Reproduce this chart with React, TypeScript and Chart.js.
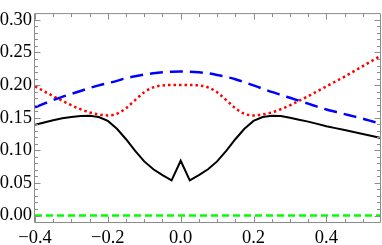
import React, { useEffect, useRef } from "react";
import { Chart, registerables } from "chart.js";

Chart.register(...registerables);

// x grid of samples
const xs = [
  -0.4, -0.375, -0.35, -0.325, -0.3, -0.275, -0.25, -0.225, -0.2, -0.175,
  -0.15, -0.125, -0.1, -0.075, -0.05, -0.025, 0, 0.025, 0.05, 0.075,
  0.1, 0.125, 0.15, 0.175, 0.2, 0.225, 0.25, 0.275, 0.3, 0.325,
  0.35, 0.375, 0.4, 0.425, 0.45, 0.475, 0.5, 0.525, 0.55,
];

// blue dashed series
const blueY = [
  0.166, 0.1715, 0.177, 0.182, 0.1865, 0.191, 0.1955, 0.1995, 0.203, 0.2065,
  0.2105, 0.2135, 0.216, 0.218, 0.2195, 0.2205, 0.221, 0.2205, 0.2195, 0.218,
  0.2155, 0.2125, 0.209, 0.2045, 0.1995, 0.1945, 0.1895, 0.185, 0.1805, 0.176,
  0.1715, 0.167, 0.1625, 0.159, 0.1555, 0.152, 0.1485, 0.1445, 0.1405,
];

// red dotted series
const redY = [
  0.198, 0.1905, 0.183, 0.176, 0.169, 0.163, 0.158, 0.155, 0.1535, 0.156,
  0.1645, 0.177, 0.189, 0.1965, 0.1995, 0.2, 0.2, 0.2, 0.1995, 0.1965,
  0.189, 0.177, 0.1645, 0.156, 0.1535, 0.155, 0.158, 0.163, 0.169, 0.176,
  0.183, 0.1905, 0.198, 0.2055, 0.213, 0.221, 0.229, 0.237, 0.245,
];

// black solid series
const blackY = [
  0.139, 0.1425, 0.146, 0.149, 0.151, 0.1525, 0.153, 0.151, 0.145, 0.133,
  0.117, 0.099, 0.083, 0.071, 0.062, 0.054, 0.084, 0.054, 0.062, 0.071,
  0.083, 0.099, 0.117, 0.133, 0.145, 0.151, 0.153, 0.1525, 0.15, 0.147,
  0.144, 0.1405, 0.137, 0.134, 0.131, 0.128, 0.125, 0.122, 0.119,
];

// green dashed series
const greenX = [-0.4, 0.55];
const greenY = [0, 0];

// ticks
const xMajor = [-0.4, -0.2, 0, 0.2, 0.4];
const xMinor = [-0.35, -0.3, -0.25, -0.15, -0.1, -0.05, 0.05, 0.1, 0.15, 0.25, 0.3, 0.35, 0.45, 0.5];
const yMajor = [0, 0.05, 0.1, 0.15, 0.2, 0.25, 0.3];
const yMinor = [
  0.01, 0.02, 0.03, 0.04, 0.06, 0.07, 0.08, 0.09, 0.11, 0.12, 0.13, 0.14,
  0.16, 0.17, 0.18, 0.19, 0.21, 0.22, 0.23, 0.24, 0.26, 0.27, 0.28, 0.29,
];

const pts = (x: number[], y: number[]) => x.map((v, i) => ({ x: v, y: y[i] }));

const fmtX = (v: number) => {
  const a = Math.abs(v).toFixed(1);
  return v < -1e-9 ? "\u2212" + a : a;
};
const fmtY = (v: number) => Math.abs(v).toFixed(2);

const FONT_FAMILY = "Liberation Serif";
const FONT_SIZE = 18.5;

const framePlugin = {
  id: "frameTicks",
  afterDraw(chart: any) {
    const { ctx, chartArea } = chart;
    const { left, right, top, bottom } = chartArea;
    const xs_ = chart.scales.x;
    const ys_ = chart.scales.y;
    const L = left - 0.5;
    const R = right - 0.5;
    const T = top - 0.5;
    const B = bottom + 0.5;
    ctx.save();
    ctx.strokeStyle = "#8c8c8c";
    ctx.lineWidth = 1;
    ctx.beginPath();
    ctx.moveTo(L, T);
    ctx.lineTo(R, T);
    ctx.lineTo(R, B);
    ctx.lineTo(L, B);
    ctx.closePath();
    ctx.stroke();
    const major = 6;
    const minor = 3.5;
    ctx.beginPath();
    const vx = (v: number, len: number) => {
      const p = Math.round(xs_.getPixelForValue(v)) + 0.5;
      ctx.moveTo(p, B);
      ctx.lineTo(p, B - len);
      ctx.moveTo(p, T);
      ctx.lineTo(p, T + len);
    };
    const vy = (v: number, len: number) => {
      const p = Math.round(ys_.getPixelForValue(v)) + 0.5;
      ctx.moveTo(L, p);
      ctx.lineTo(L + len, p);
      ctx.moveTo(R, p);
      ctx.lineTo(R - len, p);
    };
    xMajor.forEach((v) => vx(v, major));
    xMinor.forEach((v) => vx(v, minor));
    yMajor.forEach((v) => vy(v, major));
    yMinor.forEach((v) => vy(v, minor));
    ctx.stroke();
    ctx.restore();
  },
};

export default function App() {
  const ref = useRef<HTMLCanvasElement | null>(null);
  useEffect(() => {
    if (!ref.current) return;
    const font = { family: FONT_FAMILY, size: FONT_SIZE, lineHeight: 1.2 };
    const chart = new Chart(ref.current, {
      type: "line",
      data: {
        datasets: [
          {
            data: pts(xs, blueY),
            borderColor: "#0000ff",
            borderWidth: 2.5,
            borderDash: [13, 7],
            pointRadius: 0,
            cubicInterpolationMode: "monotone",
            fill: false,
          },
          {
            data: pts(xs, redY),
            borderColor: "#ff0000",
            borderWidth: 2.5,
            borderDash: [2.5, 3],
            pointRadius: 0,
            cubicInterpolationMode: "monotone",
            fill: false,
          },
          {
            data: pts(xs, blackY),
            borderColor: "#000000",
            borderWidth: 2,
            pointRadius: 0,
            tension: 0,
            fill: false,
          },
          {
            data: pts(greenX, greenY),
            borderColor: "#00ff00",
            borderWidth: 2.5,
            borderDash: [7, 4],
            pointRadius: 0,
            fill: false,
          },
        ],
      },
      options: {
        animation: false,
        responsive: false,
        maintainAspectRatio: false,
        devicePixelRatio: 1,
        layout: { padding: { top: 4, right: 1, left: 0, bottom: 0 } },
        plugins: { legend: { display: false }, tooltip: { enabled: false } },
        scales: {
          x: {
            type: "linear",
            min: -0.4,
            max: 0.55,
            grid: { display: false, drawTicks: false },
            border: { display: false },
            afterBuildTicks: (s: any) => {
              s.ticks = xMajor.map((v) => ({ value: v }));
            },
            afterFit: (s: any) => {
              s.height = 23;
            },
            ticks: {
              font,
              color: "#000",
              padding: 5,
              maxRotation: 0,
              autoSkip: false,
              callback: (v: any) => fmtX(Number(v)),
            },
          },
          y: {
            type: "linear",
            min: -0.0099,
            max: 0.3088,
            grid: { display: false, drawTicks: false },
            border: { display: false },
            afterBuildTicks: (s: any) => {
              s.ticks = yMajor.map((v) => ({ value: v }));
            },
            afterFit: (s: any) => {
              s.width = 35;
            },
            ticks: {
              font,
              color: "#000",
              padding: 3,
              autoSkip: false,
              callback: (v: any) => fmtY(Number(v)),
            },
          },
        },
      },
      plugins: [framePlugin],
    } as any);
    return () => chart.destroy();
  }, []);
  return (
    <div style={{ position: "fixed", left: 0, top: 0, width: 382, height: 245, background: "#fff" }}>
      <canvas ref={ref} width={382} height={245} style={{ display: "block", width: 382, height: 245 }} />
    </div>
  );
}
